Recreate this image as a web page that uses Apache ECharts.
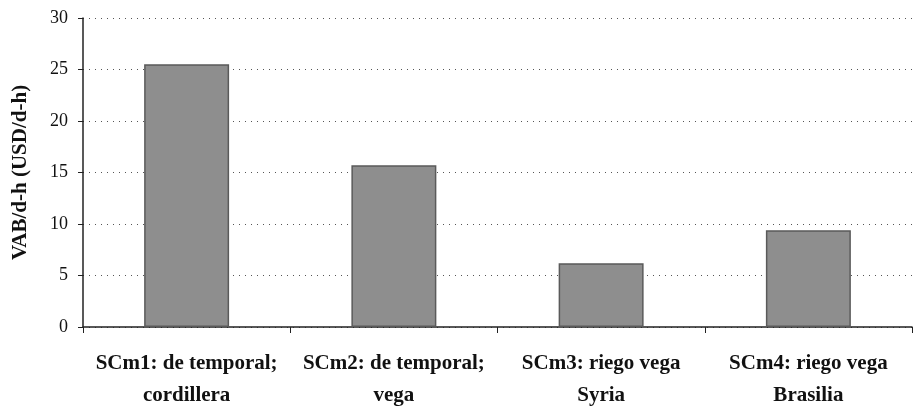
<!DOCTYPE html>
<html>
<head>
<meta charset="utf-8">
<script src="https://cdn.jsdelivr.net/npm/echarts@6/dist/echarts.min.js"></script>
<style>
  html, body { margin: 0; padding: 0; background: #fff; }
  #chart { width: 916px; height: 407px; }
</style>
</head>
<body>
<div id="chart"></div>
<script>
const categories = [
  'SCm1: de temporal;\ncordillera',
  'SCm2: de temporal;\nvega',
  'SCm3: riego vega\nSyria',
  'SCm4: riego vega\nBrasilia'
]
const values = [25.5, 15.7, 6.2, 9.4]
const yTicks = [0, 5, 10, 15, 20, 25, 30]

const chart = echarts.init(document.getElementById('chart'))
const serif = '"Liberation Serif", "DejaVu Serif", serif'

chart.setOption({
  animation: false,
  grid: { left: 83, right: 4, top: 18, bottom: 80, outerBoundsMode: 'none' },
  xAxis: {
    type: 'category',
    data: categories,
    axisLine: { lineStyle: { color: '#222', width: 1.5 } },
    axisTick: { show: true, length: 6, lineStyle: { color: '#222' } },
    axisLabel: {
      interval: 0,
      color: '#111',
      fontFamily: serif,
      fontWeight: 'bold',
      fontSize: 21,
      lineHeight: 32,
      margin: 21
    }
  },
  yAxis: {
    type: 'value',
    min: yTicks[0],
    max: yTicks[yTicks.length - 1],
    interval: 5,
    name: 'VAB/d-h (USD/d-h)',
    nameLocation: 'middle',
    nameGap: 52,
    nameTextStyle: { color: '#111', fontFamily: serif, fontWeight: 'bold', fontSize: 21 },
    axisLine: { show: true, lineStyle: { color: '#222', width: 1.5 } },
    axisTick: { show: true, length: 5, lineStyle: { color: '#222' } },
    axisLabel: { color: '#111', fontFamily: serif, fontSize: 18, margin: 15 },
    splitLine: { lineStyle: { color: '#555', type: [1, 5], width: 1 } }
  },
  series: [{
    type: 'bar',
    data: values,
    barWidth: '41%',
    itemStyle: { color: '#8e8e8e', borderColor: '#5a5a5a', borderWidth: 1.5 }
  }]
})
</script>
</body>
</html>
